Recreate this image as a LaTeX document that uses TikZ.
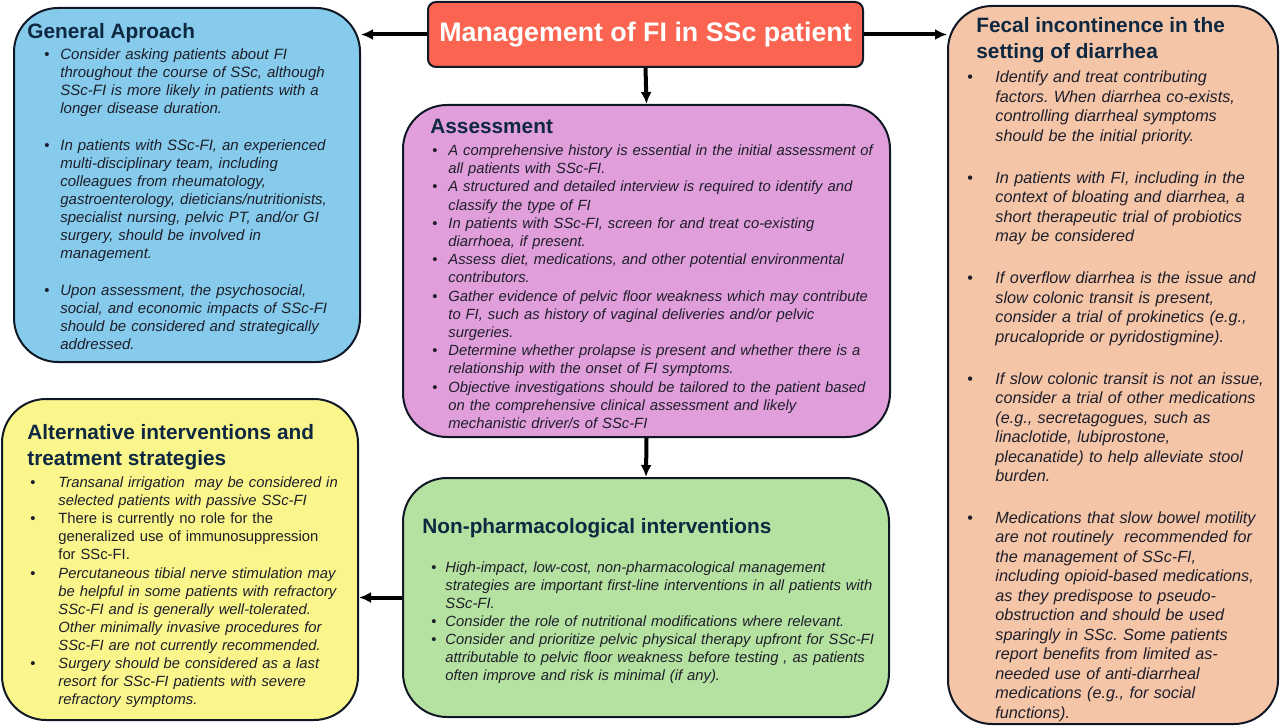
\documentclass[tikz,border=0pt]{standalone}
\usepackage{fontspec}
\setmainfont{Liberation Sans}
\usetikzlibrary{fit,arrows.meta}

\definecolor{titlered}{RGB}{250,100,80}
\definecolor{genblue}{RGB}{134,203,236}
\definecolor{assesspink}{RGB}{224,158,218}
\definecolor{fecalpeach}{RGB}{245,197,168}
\definecolor{altyellow}{RGB}{250,246,140}
\definecolor{nonphgreen}{RGB}{181,225,161}
\definecolor{headnavy}{RGB}{14,40,65}
\definecolor{edgenavy}{RGB}{16,24,38}
\definecolor{bodytext}{RGB}{30,30,42}

\frenchspacing
\newlength{\bulletgap}
\newcommand{\bitem}[1]{\par\hangindent=\bulletgap\hangafter=1\noindent
  \makebox[\bulletgap][l]{\upshape\textbullet}{\let\\\newline#1}\par}
\newcommand{\bskip}[1]{\vspace{#1}}

\tikzset{
  panel/.style={draw=edgenavy, line width=1pt, rounded corners=22pt, inner sep=0pt},
  headtxt/.style={anchor=north west, inner sep=0pt, text=headnavy, align=left,
    font=\bfseries\fontsize{10.4}{13}\selectfont},
  listtxt/.style={anchor=north west, inner sep=0pt, text=bodytext, align=left},
  link/.style={line width=2pt, arrows={-Latex[length=6pt,width=5.5pt]}}
}

\begin{document}
\begin{tikzpicture}[x=0.5pt,y=-0.5pt]
  \useasboundingbox (0,0) rectangle (1280,727);

  \node[panel, rounded corners=4pt, fill=titlered, minimum width=217.5pt, minimum height=32.5pt,
    text=white, font=\bfseries\fontsize{13.4}{15}\selectfont] (mgmt) at (645.5,34.5) {Management of FI in SSc patient};

  \node[panel, fill=genblue, fit={(14,8) (360,362)}] (gen) {};
  \node[panel, fill=assesspink, fit={(403,105) (890,437)}] (assess) {};
  \node[panel, fill=fecalpeach, fit={(948,6) (1278,724)}] (fecal) {};
  \node[panel, fill=altyellow, fit={(2,399) (358,720)}] (alt) {};
  \node[panel, fill=nonphgreen, fit={(403,478) (889,717)}] (nonph) {};

  % general approach
  \node[headtxt] (genhead) at (27,23) {General Aproach};
  \node[listtxt, text width=160pt, font=\itshape\fontsize{7.5}{9}\selectfont] (genlist) at (44,41) {%
    \setlength{\bulletgap}{8pt}%
    \bitem{Consider asking patients about FI\\throughout the course of SSc, although\\SSc-FI is more likely in patients with a\\longer disease duration.}
    \bskip{9.5pt}
    \bitem{In patients with SSc-FI, an experienced\\multi-disciplinary team, including\\colleagues from rheumatology,\\gastroenterology, dieticians/nutritionists,\\specialist nursing, pelvic PT, and/or GI\\surgery, should be involved in\\management.}
    \bskip{9.5pt}
    \bitem{Upon assessment, the psychosocial,\\social, and economic impacts of SSc-FI\\should be considered and strategically\\addressed.}};

  % assessment
  \node[headtxt] (assesshead) at (430,119) {Assessment};
  \node[listtxt, text width=230pt, font=\itshape\fontsize{7.4}{9.1}\selectfont] (assesslist) at (432,137) {%
    \setlength{\bulletgap}{8pt}%
    \bitem{A comprehensive history is essential in the initial assessment of\\all patients with SSc-FI.}
    \bitem{A structured and detailed interview is required to identify and\\classify the type of FI}
    \bitem{In patients with SSc-FI, screen for and treat co-existing\\diarrhoea, if present.}
    \bitem{Assess diet, medications, and other potential environmental\\contributors.}
    \bitem{Gather evidence of pelvic floor weakness which may contribute\\to FI, such as history of vaginal deliveries and/or pelvic\\surgeries.}
    \bitem{Determine whether prolapse is present and whether there is a\\relationship with the onset of FI symptoms.}
    \bitem{Objective investigations should be tailored to the patient based\\on the comprehensive clinical assessment and likely\\mechanistic driver/s of SSc-FI}};

  % diarrhea
  \node[headtxt] (fecalhead) at (976,17) {Fecal incontinence in the\\setting of diarrhea};
  \node[listtxt, text width=160pt, font=\itshape\fontsize{8.1}{9.75}\selectfont] (fecallist) at (967,63) {%
    \setlength{\bulletgap}{14pt}%
    \bitem{Identify and treat contributing\\factors. When diarrhea co-exists,\\controlling diarrheal symptoms\\should be the initial priority.}
    \bskip{11.2pt}
    \bitem{In patients with FI, including in the\\context of bloating and diarrhea, a\\short therapeutic trial of probiotics\\may be considered}
    \bskip{11.2pt}
    \bitem{If overflow diarrhea is the issue and\\slow colonic transit is present,\\consider a trial of prokinetics (e.g.,\\prucalopride or pyridostigmine).}
    \bskip{11.2pt}
    \bitem{If slow colonic transit is not an issue,\\consider a trial of other medications\\(e.g., secretagogues, such as\\linaclotide, lubiprostone,\\plecanatide) to help alleviate stool\\burden.}
    \bskip{11.2pt}
    \bitem{Medications that slow bowel motility\\are not routinely\ \ recommended for\\the management of SSc-FI,\\including opioid-based medications,\\as they predispose to pseudo-\\obstruction and should be used\\sparingly in SSc. Some patients\\report benefits from limited as-\\needed use of anti-diarrheal\\medications (e.g., for social\\functions).}};

  % alternatives
  \node[headtxt] (althead) at (27,424) {Alternative interventions and\\treatment strategies};
  \node[listtxt, text width=165pt, font=\itshape\fontsize{7.4}{9.05}\selectfont] (altlist) at (30,469) {%
    \setlength{\bulletgap}{14pt}%
    \bitem{Transanal irrigation\ \ may be considered in\\selected patients with passive SSc-FI}
    \bitem{\upshape There is currently no role for the\\generalized use of immunosuppression\\for SSc-FI.}
    \bitem{Percutaneous tibial nerve stimulation may\\be helpful in some patients with refractory\\SSc-FI and is generally well-tolerated.\\Other minimally invasive procedures for\\SSc-FI are not currently recommended.}
    \bitem{Surgery should be considered as a last\\resort for SSc-FI patients with severe\\refractory symptoms.}};

  % non-pharmacological
  \node[headtxt] (nonphhead) at (422,518) {Non-pharmacological interventions};
  \node[listtxt, text width=230pt, font=\itshape\fontsize{7.4}{9}\selectfont] (nonphlist) at (431,554) {%
    \setlength{\bulletgap}{7pt}%
    \bitem{High-impact, low-cost, non-pharmacological management\\strategies are important first-line interventions in all patients with\\SSc-FI.}
    \bitem{Consider the role of nutritional modifications where relevant.}
    \bitem{Consider and prioritize pelvic physical therapy upfront for SSc-FI\\attributable to pelvic floor weakness before testing , as patients\\often improve and risk is minimal (if any).}};

  \draw[link] (mgmt.west) -- (mgmt.west -| gen.east);
  \draw[link] (mgmt.east) -- (mgmt.east -| fecal.west);
  \draw[link] (mgmt.south) -- (assess.north);
  \draw[link] (assess.south) -- (nonph.north);
  \draw[link] (nonph.west) -- (nonph.west -| alt.east);
\end{tikzpicture}
\end{document}
